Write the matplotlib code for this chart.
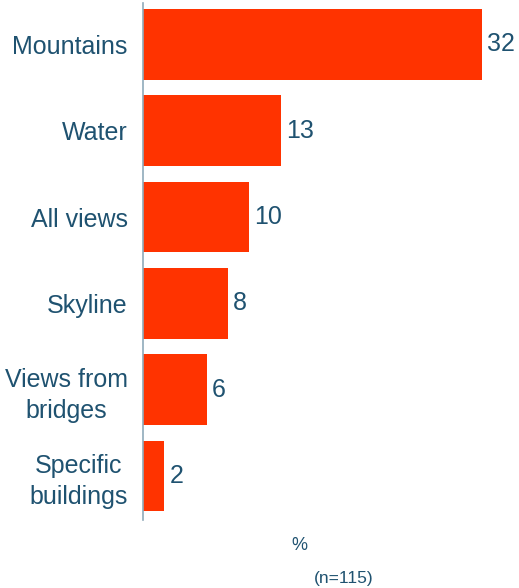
import matplotlib
matplotlib.use("Agg")
import matplotlib.pyplot as plt

categories = ["Mountains", "Water", "All views", "Skyline",
              "Views from\nbridges", "Specific\nbuildings"]
values = [32, 13, 10, 8, 6, 2]

bar_color = "#FF3300"
text_color = "#1F5270"
axis_color = "#8FAABA"

plt.rcParams['font.family'] = ['Liberation Sans', 'DejaVu Sans']

fig = plt.figure(figsize=(5.19, 5.88), dpi=100)
ax = fig.add_axes([143 / 519, 1 - 520 / 588, 376 / 519, 517 / 588])

pos = list(range(len(categories)))
ax.barh(pos, values, height=0.82, color=bar_color)
ax.set_ylim(5.51, -0.48)
ax.set_xlim(0, 376 / 10.59)

ax.set_yticks(pos)
ax.set_yticklabels(categories, fontsize=18, color=text_color,
                   multialignment='center', linespacing=1.35)
ax.tick_params(axis='y', length=0, pad=11)
ax.set_xticks([])

for s in ['top', 'right', 'bottom']:
    ax.spines[s].set_visible(False)
ax.spines['left'].set_color(axis_color)
ax.spines['left'].set_linewidth(1.2)

for p, v in zip(pos, values):
    ax.annotate(str(v), (v, p), xytext=(4, 0), textcoords='offset points',
                va='center', ha='left', fontsize=18, color=text_color)

fig.text(299 / 519, 1 - 545 / 588, "%", fontsize=13, color=text_color,
         ha='center', va='center')
fig.text(344 / 519, 1 - 578 / 588, "(n=115)", fontsize=12.5, color=text_color,
         ha='center', va='center')

fig.savefig("out.png", dpi=100)
